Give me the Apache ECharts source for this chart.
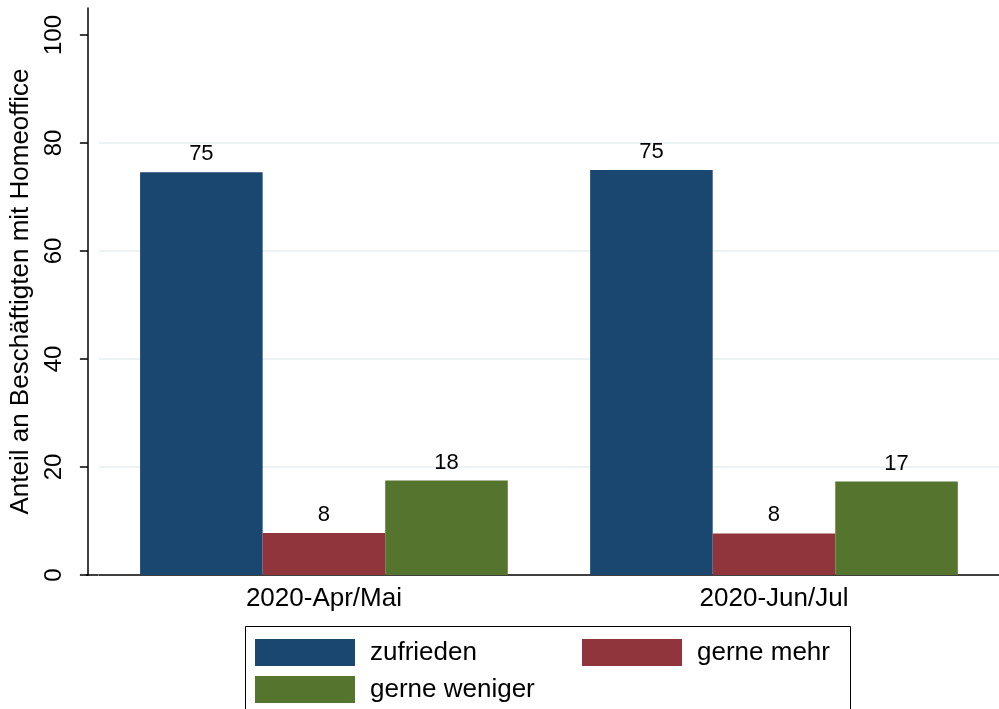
<!DOCTYPE html>
<html>
<head>
<meta charset="utf-8">
<script src="https://cdn.jsdelivr.net/npm/echarts@6/dist/echarts.min.js"></script>
<style>html,body{margin:0;padding:0;background:#fff}#c{width:999px;height:709px}</style>
</head>
<body>
<div id="c"></div>
<script>
const categories = ['2020-Apr/Mai', '2020-Jun/Jul'];
const seriesNames = ['zufrieden', 'gerne mehr', 'gerne weniger'];
const zufrieden = [74.6, 75.0];
const gerneMehr = [7.8, 7.7];
const gerneWeniger = [17.5, 17.3];
const yTicks = [0, 20, 40, 60, 80, 100];
const colors = ['#1a476f', '#90353b', '#55752f'];
const FONT = 'Liberation Sans, Arial, Helvetica, sans-serif';

const chart = echarts.init(document.getElementById('c'), null, {renderer: 'canvas'});
const values = [zufrieden, gerneMehr, gerneWeniger];

function legendFor(i, left, top) {
  return {
    data: [seriesNames[i]], left: left, top: top, orient: 'horizontal',
    itemWidth: 100, itemHeight: 27, icon: 'rect', padding: 0,
    selectedMode: false,
    textStyle: {fontFamily: FONT, fontSize: 26, color: '#000', padding: [0, 0, 0, 10]}
  };
}

chart.setOption({
  animation: false,
  backgroundColor: '#fff',
  color: colors,
  grid: {left: 97, right: 0, top: 8, bottom: 134, containLabel: false},
  xAxis: {
    type: 'category', data: categories,
    axisLine: {lineStyle: {color: '#000', width: 1.5}},
    axisTick: {show: false},
    axisLabel: {fontFamily: FONT, fontSize: 26, color: '#000', margin: 11},
    splitLine: {show: false}
  },
  yAxis: {
    type: 'value', min: 0, max: 105, interval: 20, offset: 11,
    name: 'Anteil an Beschäftigten mit Homeoffice',
    nameLocation: 'middle', nameRotate: 90, nameGap: 52,
    nameTextStyle: {fontFamily: FONT, fontSize: 26, color: '#000'},
    axisLine: {show: true, lineStyle: {color: '#000', width: 1.5}},
    axisTick: {show: true, length: 8, lineStyle: {color: '#000', width: 1.5}, customValues: yTicks},
    axisLabel: {fontFamily: FONT, fontSize: 24, color: '#000', rotate: 90, margin: 22, customValues: yTicks},
    splitLine: {show: true, showMinLine: false, showMaxLine: false, lineStyle: {color: '#eaf2f3', width: 2}}
  },
  legend: [legendFor(0, 255, 639), legendFor(1, 582, 639), legendFor(2, 255, 676)],
  series: seriesNames.map((n, i) => ({
    name: n, type: 'bar', data: values[i],
    barGap: 0, barCategoryGap: '18.3%',
    itemStyle: {color: colors[i]},
    label: {show: true, position: 'top', distance: 7, fontFamily: FONT, fontSize: 22, color: '#000',
            formatter: p => Math.round(p.value)}
  })),
  graphic: [
    {type: 'line', shape: {x1: 86, y1: 575, x2: 98, y2: 575}, style: {stroke: '#000', lineWidth: 1.5}, z: 10},
    {type: 'rect', shape: {x: 245.5, y: 626.5, width: 605, height: 100}, style: {fill: null, stroke: '#000', lineWidth: 1}, z: 1}
  ]
});
</script>
</body>
</html>
